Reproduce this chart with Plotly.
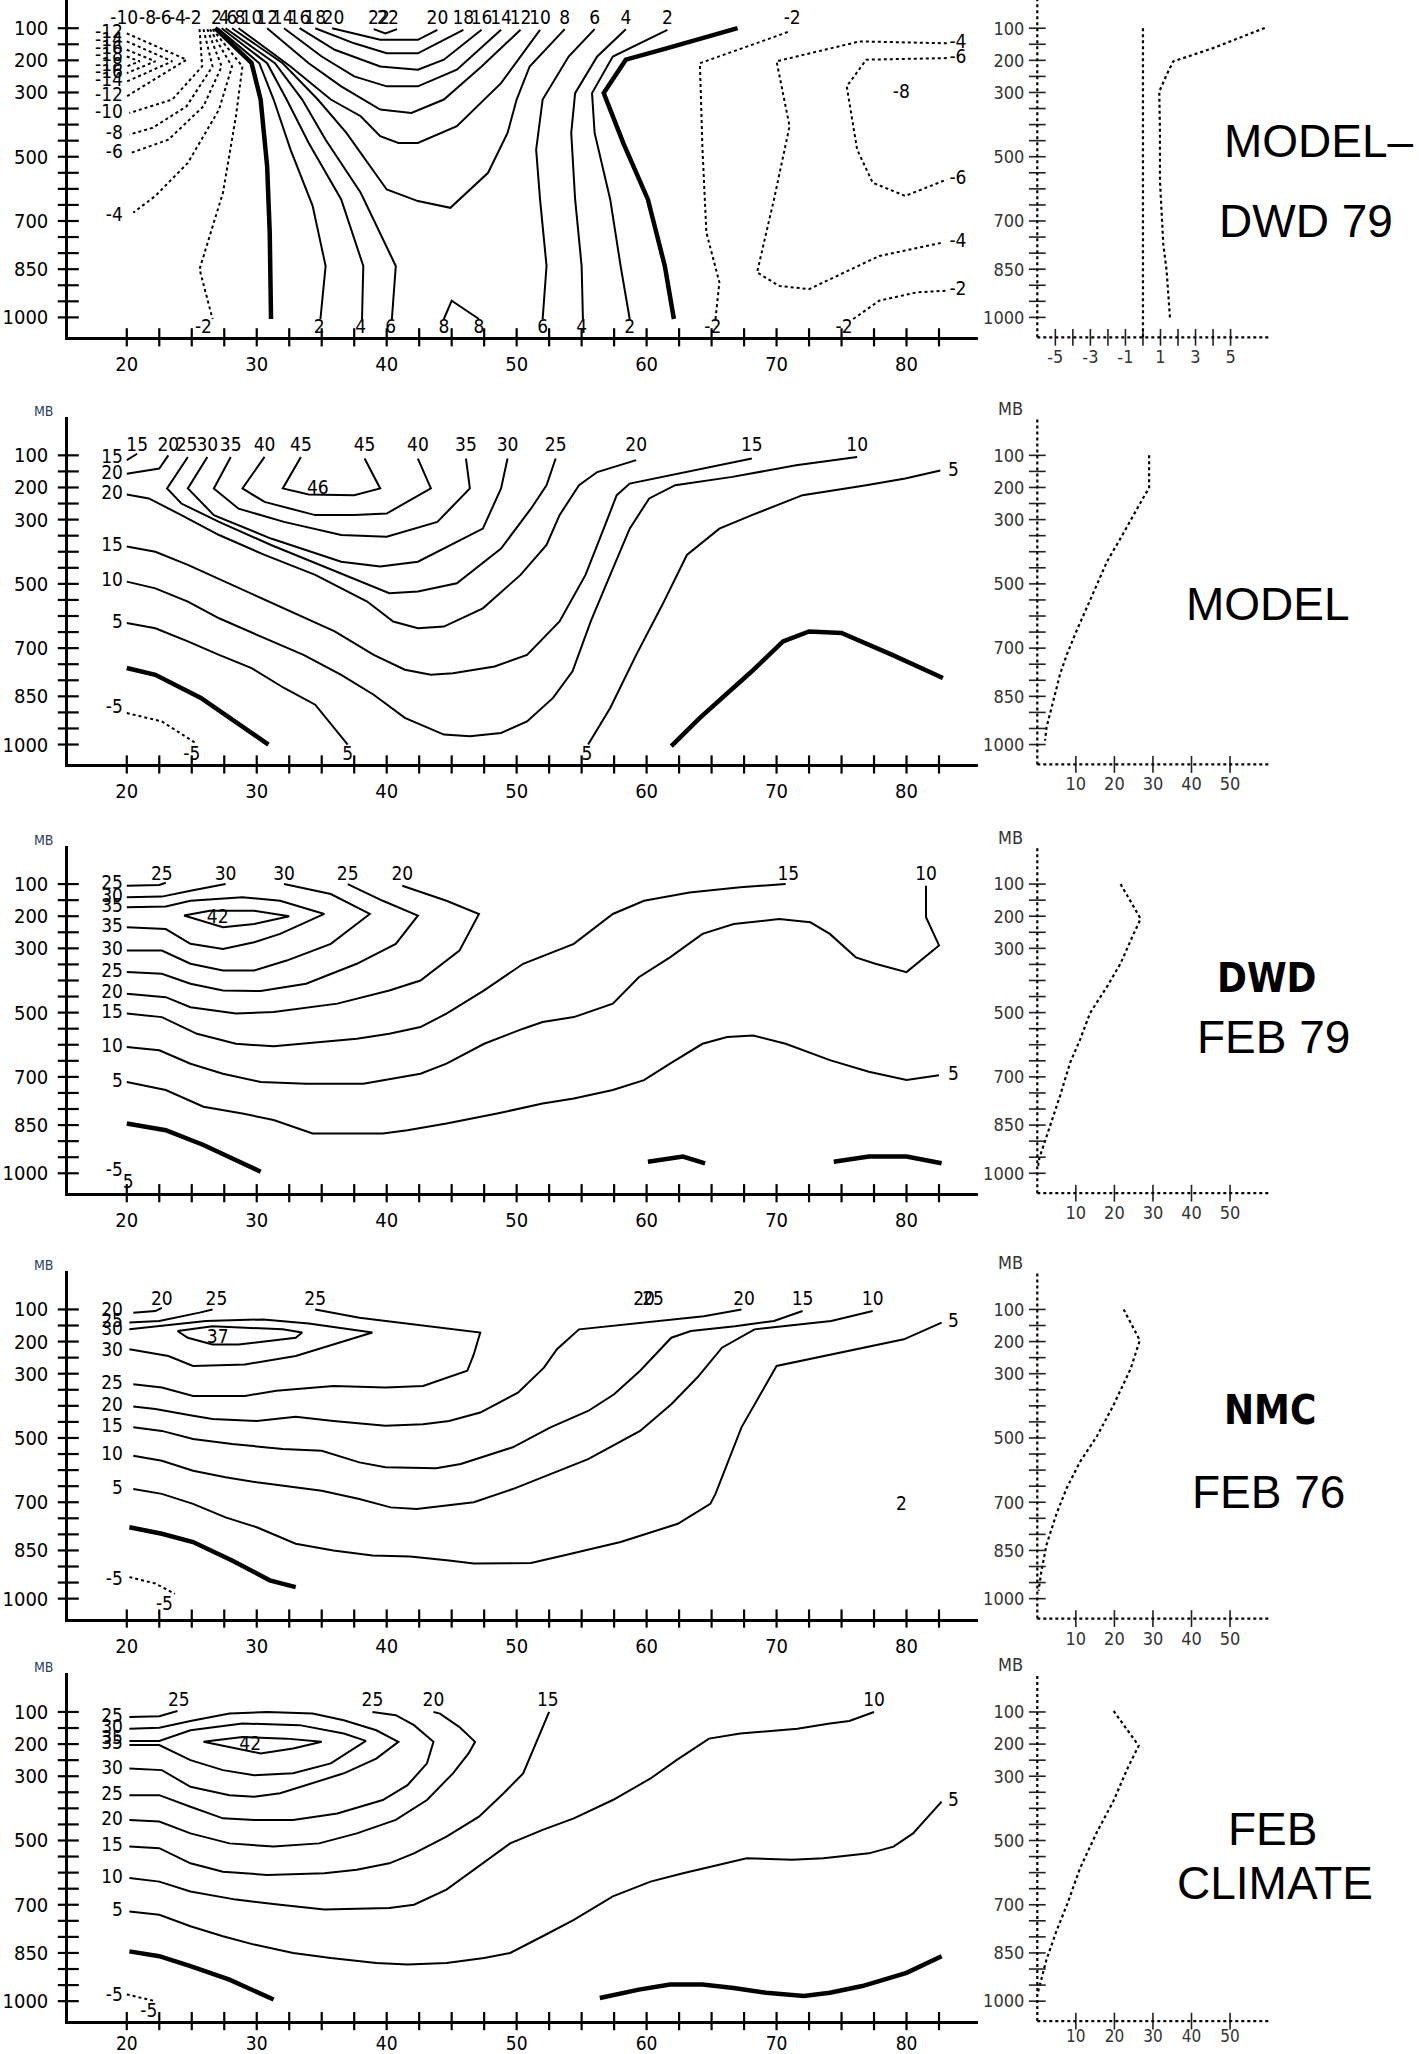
import plotly.graph_objects as go

# ======================= DATA =======================
# Axis tick values
P_TICKS = [100, 150, 200, 250, 300, 350, 400, 450, 500, 550, 600, 650, 700, 750, 800, 850, 900, 950, 1000]
P_LABELS = [100, 200, 300, 500, 700, 850, 1000]
LAT_TICKS = [20, 22.5, 25, 27.5, 30, 32.5, 35, 37.5, 40, 42.5, 45, 47.5, 50, 52.5, 55, 57.5, 60,
             62.5, 65, 67.5, 70, 72.5, 75, 77.5, 80, 82.5]
LAT_LABELS = [20, 30, 40, 50, 60, 70, 80]
DIFF_TICKS = [-5, -4, -3, -2, -1, 0, 1, 2, 3, 4, 5]
DIFF_LABELS = [-5, -3, -1, 1, 3, 5]
WIND_TICKS = [10, 20, 30, 40, 50]

# ---------- Panel 1: MODEL - DWD 79 ----------
P1_LEVELS = [-18, -16, -14, -12, -10, -8, -6, -4, -2, 0, 2, 4, 6, 8, 10, 12, 14, 16, 18, 20, 22,
             6, 4, 2, 0, -2, -4, -6, -2, 8]
P1_LAT = [
    [20, 21.0, 20], [20, 22.2, 20], [20, 23.5, 20], [20, 24.6, 20],
    [25.6, 25.8, 23.5, 20.2],
    [25.9, 26.6, 24.6, 22.0, 20.2],
    [26.2, 27.3, 25.9, 23.2, 20.2],
    [26.4, 28.1, 27.1, 24.7, 22.2, 20.5],
    [26.6, 28.9, 28.4, 27.4, 25.6, 26.6],
    [26.8, 28.6, 29.6, 30.3, 30.8, 31.0, 31.1],
    [27.0, 30.2, 31.3, 32.6, 34.3, 35.3, 34.9],
    [27.3, 30.8, 32.3, 34.0, 36.5, 38.2, 38.1],
    [27.6, 31.4, 33.5, 35.3, 38.0, 40.7, 40.4],
    [28.1, 32.0, 34.7, 36.9, 40.0, 42.4, 44.9, 47.8, 49.3, 50.0, 51.0, 53.7],
    [28.6, 32.6, 35.7, 38.0, 39.5, 40.9, 42.4, 45.4, 48.8, 51.8],
    [30.8, 34.0, 36.5, 39.5, 41.9, 44.4, 47.3, 50.3],
    [32.1, 35.0, 37.5, 40.0, 42.4, 45.4, 48.8],
    [33.3, 36.0, 39.5, 42.4, 44.4, 47.3],
    [34.5, 37.5, 40.0, 42.4, 45.9],
    [35.8, 38.0, 39.5, 42.4, 43.9],
    [39.0, 39.9, 40.8],
    [52.0, 52.3, 51.8, 51.5, 52.0, 54.0, 56.0],
    [55.1, 55.0, 54.5, 54.2, 54.5, 56.2, 58.4],
    [58.7, 58.0, 57.2, 56.0, 55.8, 57.4, 61.6],
    [62.1, 61.4, 60.1, 58.2, 56.7, 58.4, 61.6, 67.0],
    [65.3, 65.6, 64.6, 64.3, 64.1, 67.0, 71.0],
    [83.1, 76.4, 70.0, 71.0, 69.8, 68.5, 70.2, 72.5, 77.9, 82.8],
    [83.1, 76.9, 75.4, 76.2, 77.4, 79.9, 83.1],
    [75.9, 77.9, 80.8, 83.1],
    [44.4, 45.0, 47.1],
]
P1_P = [
    [188, 203, 219], [167, 203, 240], [141, 203, 266], [116, 198, 312],
    [103, 219, 322, 364],
    [103, 219, 343, 410, 431],
    [103, 219, 343, 447, 490],
    [103, 219, 353, 519, 622, 674],
    [103, 219, 374, 612, 850, 1005],
    [100, 167, 208, 322, 529, 736, 1005],
    [100, 209, 322, 478, 653, 840, 1005],
    [100, 209, 322, 457, 633, 840, 1005],
    [100, 209, 322, 447, 612, 840, 1005],
    [100, 209, 322, 426, 602, 638, 659, 550, 426, 322, 219, 103],
    [100, 219, 322, 374, 436, 457, 457, 405, 271, 105],
    [100, 209, 281, 353, 364, 322, 219, 105],
    [100, 188, 250, 281, 281, 229, 105],
    [100, 167, 219, 229, 198, 105],
    [100, 147, 178, 178, 105],
    [100, 121, 136, 136, 105],
    [103, 116, 103],
    [1005, 840, 633, 478, 322, 188, 103],
    [1005, 840, 633, 426, 302, 188, 103],
    [1005, 840, 633, 426, 302, 188, 105],
    [1005, 840, 633, 457, 302, 198, 162, 100],
    [1005, 891, 736, 478, 209, 167, 110],
    [147, 141, 203, 405, 633, 860, 902, 912, 809, 767],
    [193, 198, 281, 478, 581, 622, 571],
    [1005, 948, 922, 917],
    [1005, 948, 1005],
]
P1_LBL_TEXT = ["-10", "-8", "-6", "-4", "-2", "2", "4", "6", "8", "10", "12", "14", "16", "18", "20",
               "22", "22", "20", "18", "16", "14", "12", "10", "8", "6", "4", "2", "-2",
               "-12", "-14", "-16", "-18", "-18", "-16", "-14", "-12", "-10", "-8", "-6", "-4",
               "-4", "-6", "-6", "-4", "-2", "-8",
               "-2", "2", "4", "6", "8", "8", "6", "4", "2", "-2", "-2"]
P1_LBL_LAT = [19.8, 21.6, 22.8, 23.9, 25.1, 26.9, 27.5, 28.1, 28.7, 29.6, 30.8, 32.0, 33.3, 34.5, 35.9,
              39.4, 40.1, 43.9, 45.9, 47.3, 48.8, 50.3, 51.8, 53.7, 56.0, 58.4, 61.6, 71.2,
              19.7, 19.7, 19.7, 19.7, 19.7, 19.7, 19.7, 19.7, 19.7, 19.7, 19.7, 19.7,
              83.3, 83.3, 83.3, 83.3, 83.3, 79.6,
              25.9, 34.8, 38.0, 40.3, 44.4, 47.1, 52.0, 55.0, 58.7, 65.1, 75.2]
P1_LBL_P = [72] * 28 + [116, 141, 167, 188, 219, 240, 266, 312, 364, 431, 490, 684,
                        147, 193, 571, 767, 917, 302] + [1033] * 11
P1_LBL_POS = ["C"] * 28 + ["L"] * 12 + ["R"] * 5 + ["C"] + ["C"] * 11

# ---------- Panel 2: MODEL ----------
P2_LEVELS = [15, 20, 25, 30, 35, 40, 45, 20, 15, 10, 5, 5, 0, 0, -5]
P2_LAT = [
    [20, 20.8],
    [20, 22.5, 23.2],
    [24.7, 23.1, 24.2, 27.1, 31.1, 35.5, 38.5, 40.2, 42.4, 45.4, 48.8, 51.1, 52.3, 53.0],
    [26.2, 24.7, 26.7, 31.1, 36.5, 39.5, 42.4, 47.4, 48.8, 49.3],
    [28.0, 26.7, 28.6, 32.1, 36.5, 40.0, 43.9, 46.4, 46.1],
    [30.6, 28.9, 30.6, 34.5, 37.5, 40.0, 43.4, 42.4],
    [33.4, 32.0, 34.0, 37.5, 39.5, 38.3],
    [20, 21.7, 24.2, 27.1, 30.6, 34.5, 38.5, 40.5, 42.4, 44.4, 47.4, 50.3, 52.3, 53.3, 54.8, 56.2, 59.2],
    [20, 22.2, 24.7, 28.1, 32.1, 36.0, 39.0, 41.4, 43.4, 45.1, 48.3, 50.8, 53.3, 55.3, 56.7, 57.7,
     58.7, 63.6, 68.1],
    [20, 22.2, 24.7, 27.1, 30.6, 33.6, 36.5, 39.0, 41.4, 44.4, 46.4, 48.8, 50.8, 52.8, 54.3, 55.7,
     57.2, 58.7, 60.2, 62.2, 66.6, 71.5, 76.2],
    [20, 22.2, 24.7, 27.1, 29.6, 32.1, 34.5, 37.0],
    [55.5, 57.2, 59.2, 61.2, 63.1, 65.6, 68.1, 72.0, 76.9, 79.9, 82.6],
    [20, 22.2, 25.7, 30.9],
    [61.9, 64.1, 68.1, 70.5, 72.5, 75.0, 78.9, 82.8],
    [20, 22.7, 25.4],
]
P2_P = [
    [115, 95],
    [157, 141, 100],
    [105, 203, 250, 307, 379, 452, 503, 529, 524, 498, 390, 266, 193, 110],
    [105, 203, 286, 359, 431, 446, 431, 328, 203, 110],
    [105, 203, 266, 307, 348, 353, 307, 203, 110],
    [105, 203, 245, 286, 286, 281, 203, 110],
    [105, 203, 222, 224, 203, 110],
    [222, 234, 286, 348, 410, 472, 555, 617, 638, 633, 576, 472, 379, 286, 193, 152, 115],
    [384, 400, 441, 503, 576, 648, 721, 767, 783, 778, 757, 721, 617, 472, 328, 224, 188, 147, 110],
    [493, 514, 555, 607, 669, 721, 783, 845, 917, 969, 974, 964, 928, 855, 772, 617, 472, 328, 234,
     193, 167, 131, 105],
    [622, 638, 679, 721, 762, 824, 876, 1000],
    [1000, 886, 721, 566, 410, 328, 286, 224, 193, 172, 147],
    [762, 783, 855, 1000],
    [1005, 917, 772, 679, 648, 653, 721, 793],
    [902, 928, 998],
]
P2_LBL_TEXT = ["15", "20", "25", "30", "35", "40", "45", "45", "40", "35", "30", "25", "20", "15", "10",
               "15", "20", "20", "15", "10", "5", "-5", "5", "-5", "5", "5", "46"]
P2_LBL_LAT = [20.8, 23.2, 24.6, 26.2, 28.0, 30.6, 33.4, 38.3, 42.4, 46.1, 49.3, 53.0, 59.2, 68.1, 76.2,
              19.7, 19.7, 19.7, 19.7, 19.7, 19.7, 19.7, 83.2, 25.0, 37.0, 55.4, 34.7]
P2_LBL_P = [72] * 15 + [110, 160, 222, 384, 493, 622, 886, 150, 1033, 1033, 1033, 205]
P2_LBL_POS = ["C"] * 15 + ["L"] * 7 + ["R"] + ["C"] * 4

# ---------- Panel 3: DWD FEB 79 ----------
P3_LEVELS = [25, 30, 35, 40, 30, 25, 20, 15, 10, 5, 0, 0, 0]
P3_LAT = [
    [20, 22.5, 23.0],
    [20, 22.7, 24.9, 27.6],
    [20, 23.0, 24.9, 28.9, 31.8, 35.2, 31.8, 29.8, 27.4, 24.9, 23.0, 20],
    [24.4, 26.4, 29.8, 32.5, 29.8, 27.4, 24.4],
    [20, 22.7, 24.9, 27.4, 29.8, 32.3, 35.7, 38.7, 35.7, 32.1],
    [20, 22.7, 24.9, 27.4, 30.3, 33.8, 37.7, 40.7, 42.4, 39.7, 37.0],
    [20, 23.0, 24.9, 28.4, 31.3, 36.2, 40.2, 42.6, 45.6, 47.1, 44.6, 41.2],
    [20, 22.7, 25.4, 28.4, 31.3, 34.8, 37.7, 40.2, 42.6, 44.6, 47.5, 50.5, 54.4, 57.4, 59.8, 63.3,
     67.2, 70.7],
    [20, 22.5, 24.9, 27.4, 30.3, 33.8, 38.2, 39.7, 42.6, 44.6, 47.5, 50.5, 52.0, 54.4, 57.4, 59.4,
     61.8, 64.3, 66.7, 70.2, 72.6, 74.1, 76.1, 77.6, 80.0, 82.5, 81.5, 81.5],
    [20, 23.0, 25.9, 28.9, 31.3, 34.3, 39.7, 41.6, 44.6, 48.5, 52.0, 54.4, 57.4, 59.8, 61.8, 64.3,
     66.2, 68.2, 70.7, 74.1, 77.1, 80.0, 82.5],
    [20, 23.0, 25.9, 30.3],
    [60.1, 62.8, 64.5],
    [74.4, 77.1, 80.0, 82.7],
]
P3_P = [
    [105, 103, 96],
    [141, 139, 121, 100],
    [172, 170, 152, 141, 152, 193, 255, 281, 302, 286, 240, 234],
    [198, 183, 183, 200, 224, 234, 198],
    [307, 307, 348, 369, 369, 338, 286, 193, 131, 100],
    [374, 379, 410, 431, 433, 410, 348, 286, 198, 152, 100],
    [441, 452, 483, 503, 498, 472, 431, 400, 307, 193, 152, 105],
    [503, 514, 566, 597, 605, 591, 581, 566, 545, 503, 431, 348, 286, 193, 152, 126, 110, 100],
    [607, 617, 659, 690, 716, 721, 721, 710, 690, 659, 597, 550, 529, 514, 472, 390, 328, 255, 224,
     209, 219, 255, 328, 348, 374, 291, 203, 105],
    [716, 741, 793, 814, 834, 876, 876, 866, 845, 814, 783, 767, 741, 710, 659, 597, 576, 571, 597,
     648, 684, 710, 695],
    [845, 866, 912, 995],
    [964, 948, 969],
    [964, 948, 948, 969],
]
P3_LBL_TEXT = ["25", "30", "30", "25", "20", "15", "10",
               "25", "30", "35", "35", "30", "25", "20", "15", "10", "5", "-5",
               "5", "5", "42"]
P3_LBL_LAT = [22.7, 27.6, 32.1, 37.0, 41.2, 70.9, 81.5,
              19.7, 19.7, 19.7, 19.7, 19.7, 19.7, 19.7, 19.7, 19.7, 19.7, 19.7,
              83.2, 20.1, 27.0]
P3_LBL_P = [72] * 7 + [100, 141, 172, 234, 307, 374, 441, 503, 607, 716, 995, 695, 1030, 205]
P3_LBL_POS = ["C"] * 7 + ["L"] * 11 + ["R", "C", "C"]

# ---------- Panel 4: NMC FEB 76 ----------
P4_LEVELS = [20, 25, 30, 35, 25, 20, 15, 10, 5, 0, -5]
P4_LAT = [
    [20.5, 22.2, 22.7],
    [20.2, 22.5, 25.6, 26.6],
    [20.2, 26.1, 30.5, 34.0, 38.9, 35.9, 33.0, 29.1, 25.1, 23.2, 20.2],
    [23.9, 26.6, 32.0, 33.5, 33.0, 28.6, 26.6, 24.7, 23.9],
    [20.5, 22.7, 25.1, 29.1, 31.5, 35.9, 39.9, 42.8, 46.2, 46.7, 47.2, 44.3, 37.9, 34.5],
    [20.5, 22.2, 25.1, 26.6, 30.0, 33.0, 35.9, 39.9, 42.8, 44.8, 47.2, 50.1, 52.1, 53.1, 54.8, 59.5,
     64.4, 67.3],
    [20.5, 22.7, 25.1, 28.1, 32.0, 35.0, 37.9, 39.9, 43.8, 45.7, 49.7, 52.6, 55.5, 57.5, 59.5, 61.9,
     63.4, 66.8, 69.8, 72.0],
    [20.5, 22.7, 25.1, 27.6, 30.0, 33.0, 35.0, 37.9, 40.3, 42.3, 46.7, 49.7, 52.6, 55.5, 59.5, 61.9,
     63.9, 65.8, 68.3, 74.2, 77.4],
    [20.5, 22.7, 25.1, 27.6, 30.0, 33.0, 35.9, 38.9, 41.8, 44.8, 46.7, 51.1, 53.6, 58.0, 62.4, 64.9,
     65.3, 67.3, 70.0, 74.2, 79.8, 82.7],
    [20.2, 22.7, 25.1, 28.1, 31.0, 33.0],
    [20.2, 22.2, 23.7],
]
P4_P = [
    [110, 105, 95],
    [141, 136, 110, 100],
    [162, 136, 131, 144, 172, 209, 245, 271, 276, 245, 224],
    [167, 152, 162, 172, 188, 209, 209, 188, 167],
    [333, 343, 369, 369, 353, 338, 343, 338, 291, 240, 172, 157, 126, 100],
    [402, 410, 431, 441, 447, 434, 447, 462, 457, 447, 421, 359, 281, 224, 162, 141, 121, 100],
    [467, 478, 503, 519, 534, 540, 576, 591, 594, 581, 529, 467, 416, 364, 291, 188, 167, 152, 136, 105],
    [555, 571, 602, 622, 638, 653, 664, 690, 716, 721, 700, 659, 612, 566, 478, 395, 312, 219, 162,
     136, 105],
    [659, 674, 705, 747, 778, 829, 850, 866, 869, 881, 891, 889, 866, 824, 767, 705, 674, 467, 276,
     240, 193, 141],
    [778, 798, 824, 881, 943, 964],
    [933, 953, 985],
]
P4_LBL_TEXT = ["20", "25", "25", "20", "25", "20", "15", "10",
               "20", "25", "30", "30", "25", "20", "15", "10", "5", "-5",
               "5", "-5", "37", "2"]
P4_LBL_LAT = [22.7, 26.9, 34.5, 59.8, 60.5, 67.5, 72.0, 77.4,
              19.7, 19.7, 19.7, 19.7, 19.7, 19.7, 19.7, 19.7, 19.7, 19.7,
              83.2, 22.9, 27.0, 79.6]
P4_LBL_P = [70] * 8 + [105, 141, 164, 229, 333, 402, 467, 555, 659, 943, 141, 1020, 190, 710]
P4_LBL_POS = ["C"] * 8 + ["L"] * 10 + ["R", "C", "C", "C"]

# ---------- Panel 5: FEB CLIMATE ----------
P5_LEVELS = [25, 40, 35, 30, 25, 20, 15, 10, 5, 0, 0, -5]
P5_LAT = [
    [20.2, 22.5, 23.9],
    [25.9, 28.9, 32.3, 35.0, 32.8, 30.3, 25.9],
    [20.2, 22.5, 24.9, 28.9, 33.3, 36.7, 38.4, 35.7, 32.8, 29.8, 27.4, 24.9, 22.5, 20.2],
    [20.2, 22.5, 24.9, 27.9, 30.8, 34.3, 36.7, 39.2, 40.9, 39.2, 36.7, 33.8, 31.8, 29.8, 27.9, 24.9,
     22.7, 20.2],
    [20.2, 22.5, 24.9, 27.4, 29.8, 32.8, 36.2, 39.7, 41.6, 43.1, 43.6, 42.1, 40.7, 38.9],
    [20.2, 22.5, 24.9, 27.9, 31.3, 34.8, 37.7, 40.7, 43.1, 45.1, 46.3, 46.8, 45.6, 44.1, 43.6],
    [20.2, 22.5, 24.9, 27.4, 30.8, 35.2, 37.7, 40.2, 42.1, 44.6, 47.1, 49.0, 50.5, 51.5, 52.0, 52.5],
    [20.2, 22.5, 24.9, 28.4, 31.8, 35.2, 40.2, 42.1, 44.6, 47.1, 49.5, 52.0, 54.4, 57.4, 60.3, 62.3,
     64.8, 67.2, 71.6, 74.1, 75.6, 77.5],
    [20.2, 22.5, 24.9, 27.4, 29.8, 32.8, 35.7, 39.2, 41.6, 44.6, 47.5, 49.5, 52.0, 54.4, 57.4, 60.3,
     62.8, 66.2, 67.7, 71.2, 73.6, 77.1, 79.0, 80.5, 82.7],
    [20.2, 22.5, 24.9, 27.9, 31.3],
    [56.4, 59.4, 61.8, 64.3, 66.7, 69.2, 72.1, 74.1, 76.6, 80.0, 82.7],
    [20.0, 22.2],
]
P5_P = [
    [116, 113, 97],
    [193, 178, 183, 193, 214, 229, 193],
    [190, 190, 157, 136, 141, 167, 190, 260, 291, 297, 281, 250, 203, 203],
    [152, 149, 128, 105, 100, 105, 126, 157, 193, 245, 291, 328, 353, 364, 359, 333, 281, 276],
    [359, 359, 395, 431, 436, 436, 416, 374, 328, 260, 193, 141, 110, 100],
    [436, 441, 478, 509, 519, 509, 478, 436, 374, 291, 229, 193, 147, 105, 100],
    [519, 524, 571, 597, 607, 602, 591, 571, 540, 488, 426, 353, 291, 198, 147, 100],
    [617, 628, 659, 684, 700, 715, 710, 700, 653, 581, 509, 467, 431, 374, 307, 250, 183, 167, 152,
     136, 128, 100],
    [721, 731, 767, 798, 824, 850, 866, 881, 886, 881, 866, 850, 798, 747, 674, 628, 602, 571, 555,
     560, 555, 540, 519, 478, 379],
    [845, 860, 891, 933, 995],
    [990, 964, 948, 948, 959, 974, 984, 974, 953, 912, 860],
    [979, 1000],
]
P5_LBL_TEXT = ["25", "25", "20", "15", "10",
               "25", "30", "35", "35", "30", "25", "20", "15", "10", "5", "-5",
               "5", "-5", "42"]
P5_LBL_LAT = [24.0, 38.9, 43.6, 52.4, 77.5,
              19.7, 19.7, 19.7, 19.7, 19.7, 19.7, 19.7, 19.7, 19.7, 19.7, 19.7,
              83.2, 21.7, 29.5]
P5_LBL_P = [66] * 5 + [116, 150, 185, 200, 278, 359, 436, 519, 617, 721, 984, 379, 1034, 203]
P5_LBL_POS = ["C"] * 5 + ["L"] * 11 + ["R", "C", "C"]

# ---------- vertical mean profiles (right-hand panels) ----------
PR1_V = [1.54, 1.45, 1.35, 1.16, 0.97, 0.97, 0.93, 1.35, 1.73, 2.3, 4.0, 7.0]
PR1_P = [1000, 917, 855, 772, 576, 421, 297, 245, 203, 193, 162, 98]
PR2_V = [29.0, 29.0, 28.1, 25.0, 21.6, 18.1, 15.0, 12.0, 9.8, 7.7, 5.9, 4.6, 3.3, 2.4, 2.0]
PR2_P = [100, 203, 219, 286, 358, 430, 513, 595, 657, 719, 781, 843, 905, 946, 988]
PR3_V = [21.6, 26.8, 24.6, 21.6, 18.1, 13.7, 11.1, 8.5, 5.9, 3.3, 1.6, 0.5, 0.1]
PR3_P = [100, 208, 265, 347, 419, 501, 584, 656, 759, 851, 913, 954, 985]
PR4_V = [22.4, 26.6, 24.2, 19.8, 15.5, 11.1, 7.7, 5.0, 2.4, 1.1, 0.3]
PR4_P = [100, 196, 285, 397, 494, 574, 654, 735, 832, 912, 976]
PR5_V = [19.8, 26.3, 23.3, 19.8, 15.5, 11.1, 7.7, 5.0, 2.4, 0.7, 0.1]
PR5_P = [97, 205, 278, 376, 473, 586, 700, 781, 870, 943, 975]

PANEL_TITLES = [["MODEL–", "DWD 79"], ["MODEL"], ["DWD", "FEB 79"], ["NMC", "FEB 76"], ["FEB", "CLIMATE"]]

# ======================= LAYOUT / STYLE =======================
W, H = 1419, 2054
LAT_RANGE = [15.5, 85.5]
P_BOTTOM = 1062
PANEL_TOP_PX = [0, 418, 848, 1274.6, 1678.3]
PANEL_BOT_PX = [338.3, 766.7, 1196.7, 1623.3, 2027]
PANEL_P_TOP = [12.2, -20, -20, -20, -20]
X_STANDOFF = [7, 7, 7, 7, 3]
X_FONT_SIZE = [20, 20, 20, 20, 19]
R_FONT_SIZE = [18, 18, 18, 18, 17]
MAIN_X_PX = [68.3, 978]
RIGHT_X_PX = [1037.3, 1268.6]
RIGHT_RANGES = [[-6.03, 7.17], [0, 60], [0, 60], [0, 60], [0, 60]]

FAMILY = "DejaVu Sans Condensed, DejaVu Sans, sans-serif"
TICK_FONT = dict(family=FAMILY, size=20, color="black")
LBL_FONT = dict(family=FAMILY, size=19, color="black")
DOT_FONT = dict(family=FAMILY, size=18, color="#333")
POS = {"L": "middle left", "C": "middle center", "R": "middle right"}

fig = go.Figure()
layout = dict(width=W, height=H, margin=dict(l=0, r=0, t=0, b=0),
              paper_bgcolor="white", plot_bgcolor="white", showlegend=False)

panels = [
    (P1_LEVELS, P1_LAT, P1_P, P1_LBL_TEXT, P1_LBL_LAT, P1_LBL_P, P1_LBL_POS),
    (P2_LEVELS, P2_LAT, P2_P, P2_LBL_TEXT, P2_LBL_LAT, P2_LBL_P, P2_LBL_POS),
    (P3_LEVELS, P3_LAT, P3_P, P3_LBL_TEXT, P3_LBL_LAT, P3_LBL_P, P3_LBL_POS),
    (P4_LEVELS, P4_LAT, P4_P, P4_LBL_TEXT, P4_LBL_LAT, P4_LBL_P, P4_LBL_POS),
    (P5_LEVELS, P5_LAT, P5_P, P5_LBL_TEXT, P5_LBL_LAT, P5_LBL_P, P5_LBL_POS),
]
profiles = [(PR1_V, PR1_P), (PR2_V, PR2_P), (PR3_V, PR3_P), (PR4_V, PR4_P), (PR5_V, PR5_P)]

for i in range(5):
    k = i + 1          # main axes index
    r = i + 6          # right-panel axes index
    ydom = [1 - PANEL_BOT_PX[i] / H, 1 - PANEL_TOP_PX[i] / H]
    yrange = [P_BOTTOM, PANEL_P_TOP[i]]

    # ----- main contour panel -----
    layout[f"xaxis{k}"] = dict(domain=[MAIN_X_PX[0] / W, MAIN_X_PX[1] / W], range=LAT_RANGE,
                               anchor=f"y{k}", showline=True, linecolor="black", linewidth=3,
                               ticks="", tickvals=LAT_LABELS, ticktext=[str(v) for v in LAT_LABELS],
                               tickfont=dict(family=FAMILY, size=X_FONT_SIZE[i], color="black"),
                               showgrid=False, zeroline=False, ticklabelstandoff=X_STANDOFF[i])
    layout[f"yaxis{k}"] = dict(domain=ydom, range=yrange, anchor=f"x{k}", showline=True,
                               linecolor="black", linewidth=3, ticks="", tickvals=P_LABELS,
                               ticktext=[str(v) for v in P_LABELS], tickfont=TICK_FONT,
                               showgrid=False, zeroline=False, ticklabelstandoff=13)
    levels, lats, ps, lt, llat, lp, lpos = panels[i]
    for lev, la, pr in zip(levels, lats, ps):
        if lev < 0:
            line = dict(color="black", width=2, dash="dot")
        elif lev == 0:
            line = dict(color="black", width=4.5)
        else:
            line = dict(color="black", width=2)
        fig.add_trace(go.Scatter(x=la, y=pr, mode="lines", line=line, xaxis=f"x{k}",
                                 yaxis=f"y{k}", hoverinfo="skip"))
    fig.add_trace(go.Scatter(x=llat, y=lp, mode="text", text=lt,
                             textposition=[POS[c] for c in lpos], textfont=LBL_FONT,
                             xaxis=f"x{k}", yaxis=f"y{k}", cliponaxis=False, hoverinfo="skip"))
    # tick crosses
    fig.add_trace(go.Scatter(x=[LAT_RANGE[0]] * len(P_TICKS), y=P_TICKS, mode="markers",
                             marker=dict(symbol="line-ew", size=15, line=dict(width=2.2, color="black")),
                             xaxis=f"x{k}", yaxis=f"y{k}", cliponaxis=False, hoverinfo="skip"))
    fig.add_trace(go.Scatter(x=LAT_TICKS, y=[P_BOTTOM] * len(LAT_TICKS), mode="markers",
                             marker=dict(symbol="line-ns", size=13, line=dict(width=2.2, color="black")),
                             xaxis=f"x{k}", yaxis=f"y{k}", cliponaxis=False, hoverinfo="skip"))
    if i > 0:
        fig.add_annotation(text="MB", xref=f"x{k} domain", yref=f"y{k} domain", x=0, y=1,
                           xanchor="right", yanchor="bottom", xshift=-12, yshift=-4,
                           showarrow=False, font=dict(family=FAMILY, size=14))

    # ----- right-hand profile panel -----
    xt = DIFF_LABELS if i == 0 else WIND_TICKS
    xticks_all = DIFF_TICKS if i == 0 else WIND_TICKS
    layout[f"xaxis{r}"] = dict(domain=[RIGHT_X_PX[0] / W, RIGHT_X_PX[1] / W], range=RIGHT_RANGES[i],
                               anchor=f"y{r}", showline=False, ticks="", tickvals=xt,
                               ticktext=[str(v) for v in xt],
                               tickfont=dict(family=FAMILY, size=R_FONT_SIZE[i], color="#333"),
                               showgrid=False, zeroline=False, ticklabelstandoff=X_STANDOFF[i])
    layout[f"yaxis{r}"] = dict(domain=ydom, range=yrange, anchor=f"x{r}", showline=False, ticks="",
                               tickvals=P_LABELS, ticktext=[str(v) for v in P_LABELS],
                               tickfont=DOT_FONT, showgrid=False, zeroline=False,
                               ticklabelstandoff=12)
    fig.add_shape(type="line", xref=f"x{r} domain", yref=f"y{r} domain", x0=0, x1=0, y0=0, y1=1,
                  line=dict(color="black", width=2.2, dash="dot"))
    fig.add_shape(type="line", xref=f"x{r} domain", yref=f"y{r} domain", x0=0, x1=1, y0=0, y1=0,
                  line=dict(color="black", width=2.2, dash="dot"))
    if i == 0:
        fig.add_shape(type="line", xref=f"x{r}", yref=f"y{r}", x0=0, x1=0, y0=100, y1=P_BOTTOM,
                      line=dict(color="black", width=2.2, dash="dot"))
    pv, pp = profiles[i]
    fig.add_trace(go.Scatter(x=pv, y=pp, mode="lines", line=dict(color="black", width=2.2, dash="dot"),
                             xaxis=f"x{r}", yaxis=f"y{r}", hoverinfo="skip", cliponaxis=False))
    fig.add_trace(go.Scatter(x=[RIGHT_RANGES[i][0]] * len(P_TICKS), y=P_TICKS, mode="markers",
                             marker=dict(symbol="line-ew", size=12, line=dict(width=1.6, color="#222")),
                             xaxis=f"x{r}", yaxis=f"y{r}", cliponaxis=False, hoverinfo="skip"))
    fig.add_trace(go.Scatter(x=xticks_all, y=[P_BOTTOM] * len(xticks_all), mode="markers",
                             marker=dict(symbol="line-ns", size=12, line=dict(width=1.6, color="#222")),
                             xaxis=f"x{r}", yaxis=f"y{r}", cliponaxis=False, hoverinfo="skip"))
    if i > 0:
        fig.add_annotation(text="MB", xref=f"x{r} domain", yref=f"y{r} domain", x=0, y=1,
                           xanchor="right", yanchor="bottom", xshift=-12, yshift=-4,
                           showarrow=False, font=DOT_FONT)

# ----- panel titles on the right -----
TITLE_FONT = dict(family="Liberation Sans, Arial, Helvetica, sans-serif", size=46, color="black")
BOLD_FONT = dict(family="Liberation Sans Narrow, DejaVu Sans Condensed, Arial Narrow, sans-serif",
                 size=40, color="black")
title_pos = [
    [(1222, 141, "left"), (1306, 222, "center")],
    [(1268, 606, "center")],
    [(1266, 981, "center"), (1273, 1040, "center")],
    [(1270, 1414, "center"), (1268, 1496, "center")],
    [(1272, 1834, "center"), (1275, 1889, "center")],
]
for i, titles in enumerate(PANEL_TITLES):
    for j, t in enumerate(titles):
        px, py, anc = title_pos[i][j]
        bold = (i in (2, 3) and j == 0)
        fig.add_annotation(text=f"<b>{t}</b>" if bold else t, xref="paper", yref="paper",
                           x=px / W, y=1 - py / H, xanchor=anc, yanchor="middle", showarrow=False,
                           font=BOLD_FONT if bold else TITLE_FONT)

fig.update_layout(**layout)
fig.write_html("out.html", config={"displayModeBar": False},
               post_script="document.body.style.margin='0';document.body.style.overflow='hidden';")
